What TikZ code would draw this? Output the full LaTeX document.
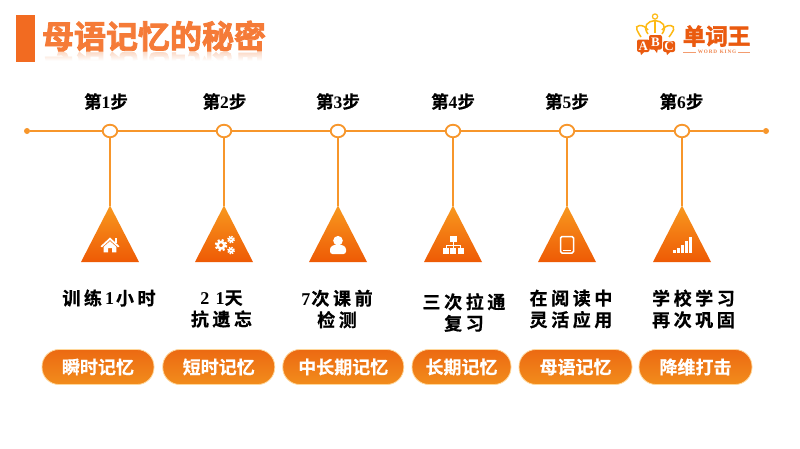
\documentclass[tikz,border=0pt]{standalone}
\usepackage{fontspec}
\usetikzlibrary{shapes.geometric,fadings}
\setmainfont{Liberation Serif}
\newfontfamily\cjb[FakeBold=.5,BoldFont={Noto Sans CJK SC Bold}]{Noto Sans CJK SC}
\newfontfamily\cjs[LetterSpace=20,FakeBold=.5,BoldFont={Noto Sans CJK SC Bold}]{Noto Sans CJK SC}
\newfontfamily\cjt[FakeBold=2.6,BoldFont={Noto Sans CJK SC Bold}]{Noto Sans CJK SC}
\newfontfamily\dgs[LetterSpace=35]{Liberation Serif}
\definecolor{lineor}{HTML}{F7962B}
\definecolor{titleor}{HTML}{F57B38}
\definecolor{baror}{HTML}{F26B21}
\definecolor{pilltop}{HTML}{EC6A12}
\definecolor{pillbot}{HTML}{F28C1C}
\definecolor{pilledge}{HTML}{FFD79A}
\definecolor{tritop}{HTML}{F8991F}
\definecolor{tribot}{HTML}{EE5A05}
\definecolor{logored}{HTML}{EA5A0F}
\definecolor{crown}{HTML}{FDB913}
\tikzset{
  axis/.style={draw=lineor,line width=1.3pt},
  stepcirc/.style={ellipse,draw=lineor,line width=1.8pt,fill=white,minimum width=14.5pt,minimum height=12.5pt,inner sep=0pt},
  enddot/.style={circle,fill=lineor,minimum size=6pt,inner sep=0pt},
  steplab/.style={font=\cjb\bfseries\fontsize{17.5}{18}\selectfont,inner sep=0pt,text=black},
  desc/.style={font=\cjs\bfseries\fontsize{18}{21.5}\selectfont,align=center,inner sep=0pt,text=black},
  pill/.style={rounded corners=17pt,top color=pilltop,bottom color=pillbot,draw=pilledge,line width=.8pt,
    minimum height=35pt,inner sep=0pt,text=white,font=\cjb\bfseries\fontsize{18}{20}\selectfont},
  tri/.style={top color=tritop,bottom color=tribot},
  icon/.style={fill=white,draw=none},
  iconl/.style={draw=white,fill=none},
  bub/.style={fill=logored,rounded corners=2pt},
  crownl/.style={draw=crown,line width=1.5pt,fill=none},
  bubtxt/.style={font=\bfseries\fontsize{13}{13}\selectfont,text=white,inner sep=0pt},
}
\newcommand\dg[1]{{\dgs\bfseries #1}}
\newcommand\gear[3]{%
  \draw[white,line width=#3*.5pt,dash pattern=on #3*.42pt off #3*.365pt] (#1,#2) circle (#3*1.0);
  \draw[white,line width=#3*.45pt] (#1,#2) circle (#3*.62);}
\begin{document}
\begin{tikzpicture}[x=1pt,y=-1pt]
\useasboundingbox (0,0) rectangle (800,448);
\fill[white] (0,0) rectangle (800,448);

% title
\fill[baror] (16,15) rectangle (35,62);
\begin{scope}
  \clip (40,50) rectangle (270,60);
  \node[font=\cjt\bfseries\fontsize{32}{34}\selectfont,text=titleor!35,inner sep=0pt,anchor=center,yscale=-1,transform shape] at (154,67) {母语记忆的秘密};
\end{scope}
\fill[white,path fading=north] (40,50) rectangle (270,60.5);
\node[font=\cjt\bfseries\fontsize{32}{34}\selectfont,text=titleor,inner sep=0pt,anchor=center] (title) at (154,36) {母语记忆的秘密};

% logo
\draw[crownl] (648,34) .. controls (642,26) and (648,21) .. (655,20.5) .. controls (662,21) and (668,26) .. (662,34);
\draw[crownl] (655,21) -- (655,33);
\draw[crownl] (648,30) .. controls (643,23) and (634,25) .. (637,30) .. controls (638,33) and (640,35) .. (641,37);
\draw[crownl] (662,30) .. controls (667,23) and (676,25) .. (673.5,30) .. controls (672.5,33) and (670,35) .. (669,37);
\draw[crown,line width=1.2pt,fill=white] (655,16.5) circle (2.6);
\fill[bub] (637,39.5) rectangle (649.5,52); \fill[logored] (640,51) -- (645,51) -- (641,55) -- cycle;
\fill[bub] (649,35) rectangle (662,49.5); \fill[logored] (653,48) -- (658,48) -- (657,53) -- cycle;
\fill[bub] (663,41) rectangle (675,52); \fill[logored] (666,51) -- (671,51) -- (667,55) -- cycle;
\node[bubtxt] (la) at (643.2,46) {A};
\node[bubtxt] (lb) at (655.5,42.3) {B};
\node[bubtxt] (lc) at (669,46.7) {C};
\node[font=\cjt\bfseries\fontsize{22.5}{23}\selectfont,text=logored,inner sep=0pt] (ln) at (716.5,36) {单词王};
\node[font=\bfseries\fontsize{5.2}{6}\selectfont,text=logored!75,inner sep=0pt] (lk) at (717,52) {W\,O\,R\,D\ \ K\,I\,N\,G};
\coordinate (lkl) at (683,52);
\coordinate (lkr) at (750,52);
\draw[logored!60,line width=.5pt] (lkl) -- ([xshift=-2pt]lk.west);
\draw[logored!60,line width=.5pt] ([xshift=2pt]lk.east) -- (lkr);

% axis
\node[enddot] (start) at (27,131) {};
\node[enddot] (end) at (766,131) {};
\foreach \i/\x/\lx in {1/110/106,2/224/224.5,3/338/338,4/453/453,5/567/567,6/682/681.5}{
  \node[stepcirc] (c\i) at (\x,131) {};
  \node[steplab] (s\i) at (\lx,101.5) {第{\rmfamily\bfseries\i}步};
  \coordinate (t\i) at (\x,206);
  \shade[tri] (\x,205.5) -- (\x+29,262) -- (\x-29,262) -- cycle;
  \draw[draw=lineor,line width=1.2pt] (c\i) -- (t\i);
}
\draw[axis] (start) -- (c1);
\draw[axis] (c1) -- (c2);
\draw[axis] (c2) -- (c3);
\draw[axis] (c3) -- (c4);
\draw[axis] (c4) -- (c5);
\draw[axis] (c5) -- (c6);
\draw[axis] (c6) -- (end);

% icons: house
\fill[icon] (110,237.5) -- (119.5,246.3) -- (118,247.3) -- (110,240) -- (102,247.3) -- (100.5,246.3) -- cycle;
\fill[icon] (115,238) rectangle (117.3,243);
\fill[icon] (103.7,246.8) -- (110,241.2) -- (116.3,246.8) -- (116.3,252.3) -- (112,252.3) -- (112,248) -- (108,248) -- (108,252.3) -- (103.7,252.3) -- cycle;
% gears
\gear{221}{245.2}{5.2}
\gear{231}{239.5}{3.2}
\gear{231}{250.5}{3.2}
% person
\fill[icon] (338,240.7) ellipse (4.8 and 4.8);
\fill[icon,rounded corners=2.5pt] (330,254) -- (330,247) -- (334,244.8) -- (342,244.8) -- (346,247) -- (346,254) -- cycle;
% org chart
\fill[icon] (450,236) rectangle (456.5,242);
\fill[icon] (443,248) rectangle (449,253.5);
\fill[icon] (450.2,248) rectangle (456.2,253.5);
\fill[icon] (457.5,248) rectangle (463.5,253.5);
\draw[white,line width=.8pt] (453.2,242) -- (453.2,248) (446,248) -- (446,245) -- (460.5,245) -- (460.5,248);
% tablet
\draw[iconl,line width=1.5pt,rounded corners=1.5pt] (560.5,236.5) rectangle (573.5,253);
\fill[icon] (563,250) rectangle (571,251);
% signal bars
\foreach \bx/\by in {673/250,677/247.5,681/245,685/241,689/237.3}{
  \fill[icon] (\bx,\by) rectangle (\bx+2.5,252.5);
}

% descriptions
\node[desc] (d1) at (109,298) {训练\hspace{3pt}\dg{1}\hspace{2pt}小时};
\node[desc] (d2) at (221.5,309) {\dg{21}天\\抗遗忘};
\node[desc] (d3) at (337,309) {\dg{7}\hspace{1pt}次课前\\检测};
\node[desc] (d4) at (464,312.5) {三次拉通\\复习};
\node[desc] (d5) at (571,309) {在阅读中\\灵活应用};
\node[desc] (d6) at (693.5,309) {学校学习\\再次巩固};

% pills
\node[pill,minimum width=112pt] (p1) at (98,367) {瞬时记忆};
\node[pill,minimum width=112pt] (p2) at (218.75,367) {短时记忆};
\node[pill,minimum width=121pt] (p3) at (343.25,367) {中长期记忆};
\node[pill,minimum width=99pt] (p4) at (461.5,367) {长期记忆};
\node[pill,minimum width=113pt] (p5) at (575.5,367) {母语记忆};
\node[pill,minimum width=113pt] (p6) at (695.5,367) {降维打击};
\end{tikzpicture}
\end{document}
